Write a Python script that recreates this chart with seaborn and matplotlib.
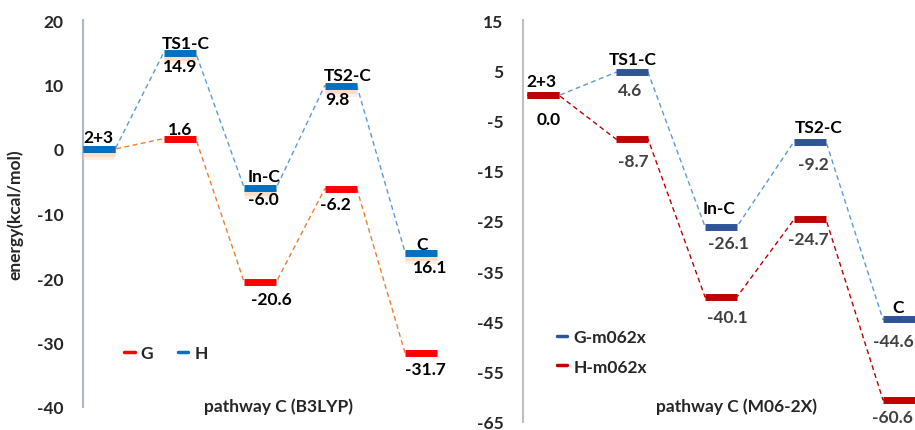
import numpy as np
import pandas as pd
import matplotlib
matplotlib.use('Agg')
import matplotlib.pyplot as plt
import matplotlib.patheffects as pe
from matplotlib.lines import Line2D
import seaborn as sns

# estados del camino de reaccion
estados = ['2+3', 'TS1-C', 'In-C', 'TS2-C', 'C']

# B3LYP (kcal/mol)
b3_G = [0.0, 1.6, -20.6, -6.2, -31.7]
b3_H = [0.0, 14.9, -6.0, 9.8, -16.1]
b3_G_txt = ['', '1.6', '-20.6', '-6.2', '-31.7']
b3_H_txt = ['', '14.9', '-6.0', '9.8', '16.1']
b3_ticks = [20, 10, 0, -10, -20, -30, -40]

# M06-2X (kcal/mol)
m06_G = [0.0, 4.6, -26.1, -9.2, -44.6]
m06_H = [0.0, -8.7, -40.1, -24.7, -60.6]
m06_G_txt = ['', '4.6', '-26.1', '-9.2', '-44.6']
m06_H_txt = ['0.0', '-8.7', '-40.1', '-24.7', '-60.6']
m06_ticks = [15, 5, -5, -15, -25, -35, -45, -55, -65]

W, H = 915, 431
FS = 12.5
CAP = 6  # mitad de la altura de mayusculas en px

sns.set_theme(style='white')
plt.rcParams['font.family'] = ['Lato', 'DejaVu Sans']
plt.rcParams['font.weight'] = 'bold'

fig = plt.figure(figsize=(W / 100, H / 100), dpi=100)
ax1 = fig.add_axes([83 / W, 1 - 408 / H, 377 / W, 387 / H])
ax2 = fig.add_axes([523 / W, 1 - 423 / H, 392 / W, 402 / H])


def perfil(ax, valores, color_barra, color_linea, w, sombra=False):
    x = np.arange(1, len(valores) + 1)
    df = pd.DataFrame({'x': np.repeat(x, 2) + np.tile([-w, w], len(x)),
                       'y': np.repeat(valores, 2)})
    sns.lineplot(data=df, x='x', y='y', sort=False, estimator=None, ax=ax,
                 color=color_linea, lw=1.0, linestyle=(0, (3.5, 2.5)), zorder=2)
    efectos = None
    if sombra:
        efectos = [pe.SimpleLineShadow(offset=(0, -3), shadow_color='#F4B183', alpha=0.45),
                   pe.SimpleLineShadow(offset=(0, -5), shadow_color='#FBE0CF', alpha=0.5),
                   pe.Normal()]
    ax.hlines(valores, x - w, x + w, colors=color_barra, lw=5, zorder=3,
              path_effects=efectos)


def etiquetas(ax, valores, textos, offsets, color='black'):
    for i, (v, t, (dx, dy)) in enumerate(zip(valores, textos, offsets)):
        if t == '':
            continue
        ax.annotate(t, (i + 1, v), xytext=(dx, dy - CAP), textcoords='offset pixels',
                    ha='center', va='baseline', fontsize=FS, fontweight='bold',
                    color=color, zorder=5, annotation_clip=False)


# ---------------- panel izquierdo: B3LYP ----------------
perfil(ax1, b3_G, '#FF0000', '#ED7D31', 0.2)
perfil(ax1, b3_H, '#0070C0', '#5B9BD5', 0.2, sombra=True)
ax1.set_xlim(0.8, 5.48)
ax1.set_ylim(-40, 20)

etiquetas(ax1, b3_H, estados, [(-1, 13), (6, 10.5), (4, 12.7), (7, 11.3), (1, 10.3)])
etiquetas(ax1, b3_H, b3_H_txt, [(0, 0), (0, -12.5), (3, -10.5), (-3, -12), (8.5, -13)])
etiquetas(ax1, b3_G, b3_G_txt, [(0, 0), (0, 10.5), (11.5, -16), (-5, -14), (4.5, -14.5)])

ax1.legend(handles=[Line2D([], [], color='#FF0000', lw=2.5),
                    Line2D([], [], color='#0070C0', lw=2.5)],
           labels=['G', 'H'], ncol=2, frameon=False, fontsize=FS,
           handlelength=0.6, handletextpad=0.35, columnspacing=1.4,
           loc='center', bbox_to_anchor=(166 / W, 1 - 354 / H),
           bbox_transform=fig.transFigure)

# ---------------- panel derecho: M06-2X ----------------
perfil(ax2, m06_G, '#2F5597', '#5B9BD5', 0.18)
perfil(ax2, m06_H, '#C00000', '#C00000', 0.18)
ax2.set_xlim(0.775, 5.18)
ax2.set_ylim(-65, 15)

nombres_off = [(-1.5, 15), (1, 14), (-2.5, 19.6), (8.5, 15.6), (-1, 13)]
etiquetas(ax2, [m06_H[0]] + m06_G[1:], estados, nombres_off)
etiquetas(ax2, m06_G, m06_G_txt, [(0, 0), (-2, -17), (7.5, -15), (3, -21.4), (-6, -20.5)],
          color='#404040')
etiquetas(ax2, m06_H[:1], m06_H_txt[:1], [(6, -23)])
etiquetas(ax2, m06_H, [''] + m06_H_txt[1:], [(0, 0), (1, -21), (6, -19.6), (-1.5, -19), (-6.5, -16.5)],
          color='#404040')

ax2.legend(handles=[Line2D([], [], color='#2F5597', lw=2.5),
                    Line2D([], [], color='#C00000', lw=2.5)],
           labels=['G-m062x', 'H-m062x'], frameon=False, fontsize=FS,
           handlelength=0.6, handletextpad=0.35, labelspacing=0.75,
           loc='center', bbox_to_anchor=(602 / W, 1 - 353 / H),
           bbox_transform=fig.transFigure)

# ejes
for ax, ticks, col_eje in [(ax1, b3_ticks, '#A9B7D0'), (ax2, m06_ticks, '#BFBFBF')]:
    ax.set_yticks(ticks)
    ax.set_yticklabels([str(t) for t in ticks], fontsize=FS, fontweight='bold')
    ax.set_xticks([])
    ax.set_xlabel('')
    ax.set_ylabel('')
    ax.tick_params(axis='y', length=0, pad=14)
    for lado in ['top', 'right', 'bottom']:
        ax.spines[lado].set_visible(False)
    ax.spines['left'].set_color(col_eje)
    ax.spines['left'].set_linewidth(1.5)
    ax.patch.set_alpha(0)

fig.text(15 / W, 1 - 215 / H, 'energy(kcal/mol)', rotation=90, ha='center', va='center',
         fontsize=FS, fontweight='bold')
fig.text(279 / W, 1 - 407 / H, 'pathway C (B3LYP)', ha='center', va='center',
         fontsize=FS, fontweight='bold')
fig.text(737 / W, 1 - 407 / H, 'pathway C (M06-2X)', ha='center', va='center',
         fontsize=FS, fontweight='bold')

fig.savefig('out.png', dpi=100)
